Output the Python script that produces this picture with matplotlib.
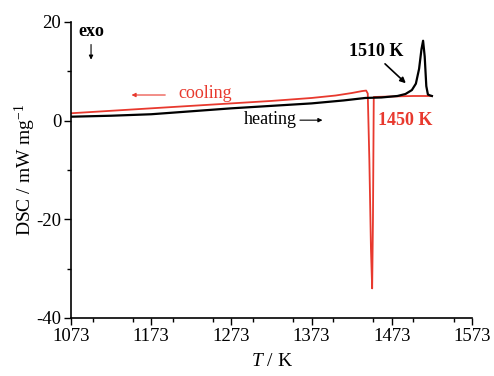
import numpy as np
import matplotlib.pyplot as plt
from matplotlib.ticker import MultipleLocator

plt.rcParams['font.family'] = ['Liberation Serif', 'DejaVu Serif']
plt.rcParams['mathtext.fontset'] = 'custom'
plt.rcParams['mathtext.it'] = 'Liberation Serif:italic'
plt.rcParams['mathtext.rm'] = 'Liberation Serif'
plt.rcParams['axes.unicode_minus'] = False

# heating curve
heat_T = [1073, 1123, 1173, 1223, 1273, 1323, 1373, 1413, 1440, 1460, 1480, 1490,
          1498, 1503, 1507, 1510, 1512, 1514, 1516, 1518, 1521, 1523]
heat_v = [0.8, 1.0, 1.3, 1.9, 2.5, 3.0, 3.5, 4.1, 4.6, 4.7, 5.0, 5.4,
          6.2, 7.5, 10.5, 14.5, 16.2, 13.0, 7.0, 5.3, 5.1, 5.0]

# cooling curve
cool_T = [1073, 1123, 1173, 1223, 1273, 1323, 1373, 1403, 1423, 1436, 1441,
          1443, 1445, 1447, 1448.5, 1449.5, 1450.5, 1473, 1500, 1523]
cool_v = [1.5, 2.0, 2.5, 3.0, 3.5, 4.0, 4.6, 5.1, 5.6, 6.0, 6.1,
          5.5, -8, -26, -34, -20, 4.8, 4.9, 5.0, 5.0]

red = '#e8392e'

fig = plt.figure(figsize=(4.94, 3.76), dpi=100)
ax = fig.add_axes([0.1437, 0.1543, 0.8118, 0.7872])

ax.plot(cool_T, cool_v, color=red, lw=1.3)
ax.plot(heat_T, heat_v, color='black', lw=1.6)

ax.set_xlim(1073, 1573)
ax.set_ylim(-40, 20)
ax.xaxis.set_minor_locator(MultipleLocator(50))
ax.yaxis.set_major_locator(MultipleLocator(20))
ax.yaxis.set_minor_locator(MultipleLocator(10))
ax.set_xticks(np.arange(1073, 1574, 100))
ax.tick_params(which='both', direction='out', labelsize=13.5, width=1)
ax.tick_params(which='major', length=5, pad=2)
ax.tick_params(which='minor', length=3)
ax.spines['top'].set_visible(False)
ax.spines['right'].set_visible(False)
ax.spines['left'].set_linewidth(1.2)
ax.spines['bottom'].set_linewidth(1.2)

ax.set_xlabel(r'$T$ / K', fontsize=14, labelpad=6)
ax.set_ylabel(r'DSC / mW mg$^{-1}$', fontsize=14, labelpad=-1)

ax.text(1098, 18.0, 'exo', fontsize=13, fontweight='bold', ha='center', va='center')
ax.annotate('', xy=(1098, 11.8), xytext=(1098, 16.0),
            arrowprops=dict(arrowstyle='-|>', color='black', lw=0.8, mutation_scale=6))

ax.text(1240, 5.6, 'cooling', fontsize=13, color=red, ha='center', va='center')
ax.annotate('', xy=(1145, 5.2), xytext=(1194, 5.2),
            arrowprops=dict(arrowstyle='-|>', color=red, lw=0.8, mutation_scale=6))

ax.text(1322, 0.3, 'heating', fontsize=13, ha='center', va='center')
ax.annotate('', xy=(1390, 0.1), xytext=(1355, 0.1),
            arrowprops=dict(arrowstyle='-|>', color='black', lw=0.8, mutation_scale=6))

ax.text(1453, 14.0, '1510 K', fontsize=13, fontweight='bold', ha='center', va='center')
ax.annotate('', xy=(1493, 7.2), xytext=(1462, 11.9),
            arrowprops=dict(arrowstyle='-|>', color='black', lw=1.2, mutation_scale=8))

ax.text(1490, 0.1, '1450 K', fontsize=13, fontweight='bold', color=red, ha='center', va='center')

fig.savefig('out.png', dpi=100)
